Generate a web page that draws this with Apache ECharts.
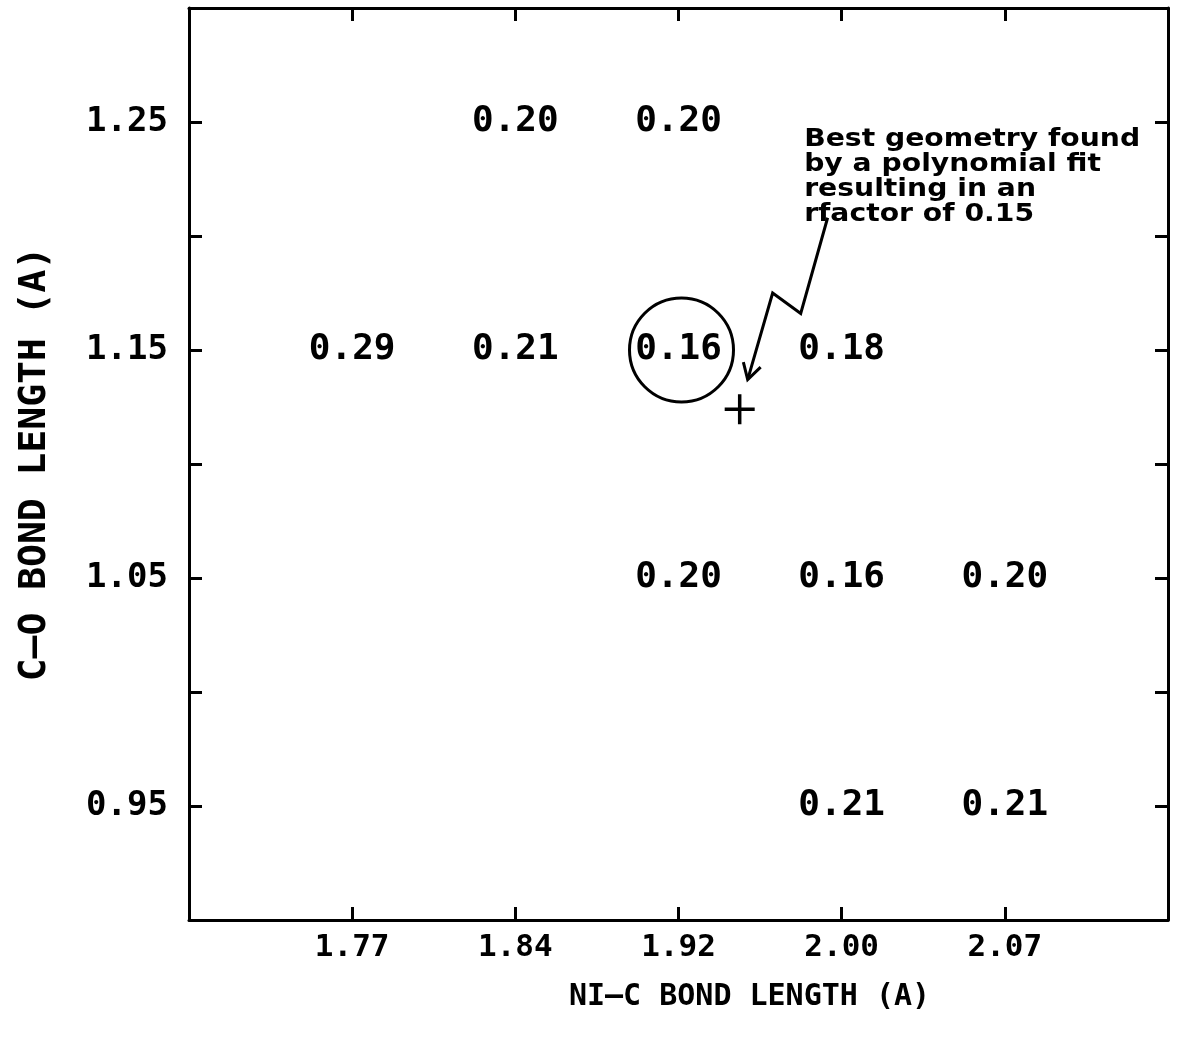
<!DOCTYPE html>
<html>
<head>
<meta charset="utf-8">
<script src="https://cdn.jsdelivr.net/npm/echarts@6/dist/echarts.min.js"></script>
<style>
html,body{margin:0;padding:0;background:#fff;}
#c{width:1184px;height:1044px;}
</style>
</head>
<body>
<div id="c"></div>
<script>
// ---- data ----
const xCats = ['1.77', '1.84', '1.92', '2.00', '2.07'];          // Ni-C bond length tick labels
const yTicks = [0.95, 1.05, 1.15, 1.25];                           // C-O bond length tick labels
const cellX = ['1.84', '1.92', '1.77', '1.84', '1.92', '2.00', '1.92', '2.00', '2.07', '2.00', '2.07'];
const cellY = [1.25, 1.25, 1.15, 1.15, 1.15, 1.15, 1.05, 1.05, 1.05, 0.95, 0.95];
const rFactor = ['0.20', '0.20', '0.29', '0.21', '0.16', '0.18', '0.20', '0.16', '0.20', '0.21', '0.21'];
const bestX = [1.95];     // best geometry from polynomial fit
const bestY = [1.124];
const circledX = ['1.92'];
const circledY = [1.15];
const noteText = ['Best geometry found', 'by a polynomial fit', 'resulting in an', 'rfactor of 0.15'];

// ---- helpers ----
const xNum = xCats.map(Number);
function xPos(label) { return xCats.indexOf(label) + 1; }
function xPosNum(v) {
  for (let i = 0; i < xNum.length - 1; i++) {
    if (v >= xNum[i] && v <= xNum[i + 1]) return i + 1 + (v - xNum[i]) / (xNum[i + 1] - xNum[i]);
  }
  return v < xNum[0] ? 1 : xNum.length;
}
// annotation anchors in axis units (x: category position, y: C-O length)
const noteAnchor = [3.77, 1.248];
const arrowPts = [[3.914, 1.208], [3.749, 1.166], [3.577, 1.175], [3.424, 1.137]];

const MONO = '"DejaVu Sans Mono", monospace';
const black = '#000';

const commonX = {
  type: 'value', min: 0, max: 6, interval: 1,
  axisLine: { show: true, onZero: false, lineStyle: { color: black, width: 3 } },
  axisTick: { show: true, inside: true, length: 13, lineStyle: { color: black, width: 3 } },
  splitLine: { show: false }
};
const commonY = {
  type: 'value', min: 0.90, max: 1.30, interval: 0.05,
  axisLine: { show: true, onZero: false, lineStyle: { color: black, width: 3 } },
  axisTick: { show: true, inside: true, length: 13, lineStyle: { color: black, width: 3 } },
  splitLine: { show: false }
};

const chart = echarts.init(document.getElementById('c'), null, { renderer: 'canvas' });
chart.setOption({
  animation: false,
  backgroundColor: '#fff',
  grid: { left: 189, right: 16, top: 8, bottom: 124, containLabel: false },
  xAxis: [
    Object.assign({}, commonX, {
      position: 'bottom',
      name: 'NI\u2014C BOND LENGTH (A)', nameLocation: 'middle', nameGap: 62,
      nameTextStyle: { fontFamily: MONO, fontSize: 30, fontWeight: 'bold', color: black, padding: [0, 0, 0, 142] },
      axisLabel: {
        show: true, margin: 12, fontFamily: MONO, fontSize: 31, fontWeight: 'bold', color: black,
        formatter: v => xCats[Math.round(v) - 1] || ''
      }
    }),
    Object.assign({}, commonX, { position: 'top', axisLabel: { show: false } })
  ],
  yAxis: [
    Object.assign({}, commonY, {
      position: 'left',
      name: 'C\u2014O BOND LENGTH (A)', nameLocation: 'middle', nameGap: 135,
      nameTextStyle: { fontFamily: MONO, fontSize: 38, fontWeight: 'bold', color: black },
      axisLabel: {
        show: true, margin: 21, fontFamily: MONO, fontSize: 34, fontWeight: 'bold', color: black,
        formatter: v => yTicks.some(t => Math.abs(t - v) < 1e-6) ? v.toFixed(2) : ''
      }
    }),
    Object.assign({}, commonY, { position: 'right', axisLabel: { show: false } })
  ],
  series: [
    {
      type: 'scatter', xAxisIndex: 0, yAxisIndex: 0,
      symbolSize: 1, itemStyle: { color: 'rgba(0,0,0,0)', opacity: 1 },
      data: cellX.map((c, i) => [xPos(c), cellY[i], rFactor[i]]),
      label: {
        show: true, position: 'inside', formatter: p => p.value[2],
        fontFamily: MONO, fontSize: 36, fontWeight: 'bold', color: black, opacity: 1
      }
    },
    {
      type: 'scatter', xAxisIndex: 0, yAxisIndex: 0,
      symbol: 'circle', symbolSize: 104,
      symbolOffset: [3, 0],
      itemStyle: { color: 'rgba(0,0,0,0)', borderColor: black, borderWidth: 3, opacity: 1 },
      data: circledX.map((c, i) => [xPos(c), circledY[i]])
    },
    {
      type: 'scatter', xAxisIndex: 0, yAxisIndex: 0,
      symbol: 'path://M0,15L30,15M15,0L15,30', symbolSize: 30,
      itemStyle: { color: 'rgba(0,0,0,0)', borderColor: black, borderWidth: 3.5, opacity: 1 },
      data: bestX.map((v, i) => [xPosNum(v), bestY[i]])
    },
    {
      type: 'custom', xAxisIndex: 0, yAxisIndex: 0, clip: false, silent: true,
      data: [[noteAnchor[0], noteAnchor[1]]],
      renderItem: function (params, api) {
        const pts = arrowPts.map(p => api.coord(p));
        const tip = pts[pts.length - 1], prev = pts[pts.length - 2];
        let dx = tip[0] - prev[0], dy = tip[1] - prev[1];
        const L = Math.hypot(dx, dy); dx /= L; dy /= L;
        const headLen = 18, ang = 30 * Math.PI / 180;
        function arm(s) {
          const c = Math.cos(s * ang), sn = Math.sin(s * ang);
          const bx = -dx, by = -dy;
          return [tip[0] + headLen * (bx * c - by * sn), tip[1] + headLen * (bx * sn + by * c)];
        }
        const anchor = api.coord(noteAnchor);
        return {
          type: 'group',
          children: [
            { type: 'polyline', shape: { points: pts }, style: { stroke: black, lineWidth: 3, fill: null } },
            { type: 'polyline', shape: { points: [arm(1), tip, arm(-1)] }, style: { stroke: black, lineWidth: 3, fill: null } },
            {
              type: 'text', x: anchor[0], y: anchor[1], scaleX: 1.13,
              style: {
                text: noteText.join('\n'), fill: black,
                font: 'bold 25px "DejaVu Sans", sans-serif',
                lineHeight: 25, align: 'left', verticalAlign: 'top'
              }
            }
          ]
        };
      }
    }
  ]
});
</script>
</body>
</html>
